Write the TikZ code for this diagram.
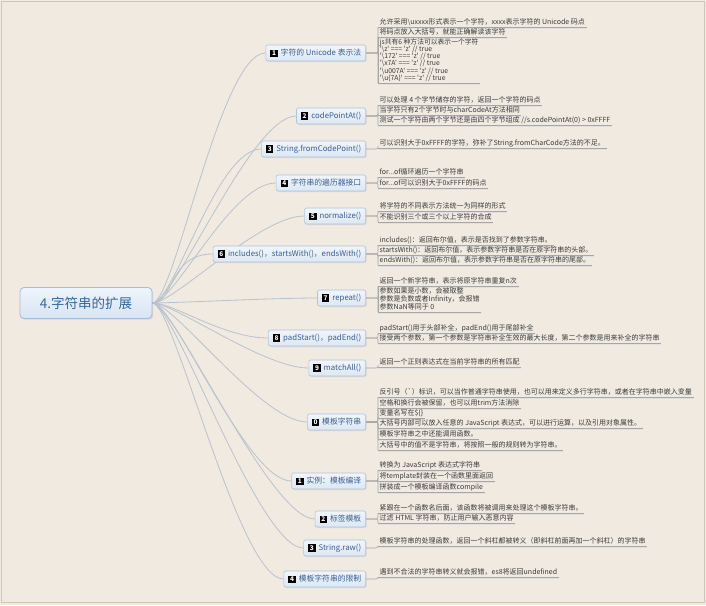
\documentclass[tikz,border=0pt]{standalone}
\usepackage{fontspec}
\newfontfamily\cjkf{Noto Sans CJK SC}
\usetikzlibrary{shadows,calc}
\pgfdeclarelayer{connlayer}
\pgfsetlayers{connlayer,main}
\definecolor{bgc}{HTML}{F0EAE1}
\definecolor{framec}{HTML}{CFC6B8}
\definecolor{rootfill}{HTML}{D8E5F3}
\definecolor{rootfilltop}{HTML}{EEF4FB}
\definecolor{rootdraw}{HTML}{A3BCD8}
\definecolor{roottext}{HTML}{3465A4}
\definecolor{brfill}{HTML}{DCE8F4}
\definecolor{brfilltop}{HTML}{F0F5FB}
\definecolor{brdraw}{HTML}{AEC4DC}
\definecolor{brtext}{HTML}{3A5E90}
\definecolor{rconnc}{HTML}{B8C2CD}
\definecolor{lconnc}{HTML}{A6A6A6}
\definecolor{leaftext}{HTML}{3A3A3A}
\newcommand\nicon[1]{{\setlength\fboxsep{1.2pt}\colorbox{black}{\makebox[5pt]{\textcolor{white}{\bfseries\fontsize{6.5}{6.5}\selectfont #1}}}}\hspace{3pt}}
\tikzset{
  rootnode/.style={draw=rootdraw, line width=0.8pt, rounded corners=4pt, top color=rootfilltop, bottom color=rootfill,
    minimum width=132pt, minimum height=31pt, text=roottext, font=\cjkf\fontsize{13.5}{16}\selectfont,
    drop shadow={opacity=0.18, shadow xshift=1.2pt, shadow yshift=-1.2pt}},
  brnode/.style={draw=brdraw, line width=0.6pt, rounded corners=2pt, top color=brfilltop, bottom color=brfill,
    anchor=east, minimum height=16pt, inner xsep=4.5pt, inner ysep=2pt, text=brtext,
    font=\cjkf\fontsize{7.8}{9}\selectfont,
    drop shadow={opacity=0.15, shadow xshift=1pt, shadow yshift=-1pt}},
  leafnode/.style={anchor=west, inner xsep=1.5pt, inner ysep=1.2pt, text height=5.6pt, text depth=1.6pt,
    text=leaftext, font=\cjkf\fontsize{7}{8}\selectfont},
  boxleaf/.style={anchor=west, inner xsep=1.5pt, inner ysep=1.5pt, align=left, text=leaftext},
  uline/.style={draw=lconnc, line width=0.6pt},
  ushadow/.style={draw=black!12, line width=0.8pt},
  rconn/.style={draw=rconnc, line width=0.8pt},
  lconn/.style={draw=lconnc, line width=0.6pt, rounded corners=2pt},
}
\newcommand\ulinefor[1]{\draw[ushadow] ([yshift=-1pt]#1.south west) -- ([yshift=-1pt]#1.south east);
  \draw[uline] (#1.south west) -- (#1.south east);}
\newcommand\mleaf[4]{%
  \node[leafnode] (#1) at (378,#3) {#4};
  \ulinefor{#1}
  \draw[lconn] (#2.east) -| (#1.south west);}
\newcommand\brconn[1]{\draw[rconn] (root.east) .. controls +(22,0) and +(-45,0) .. (#1.west);}
\begin{document}
\begin{tikzpicture}[x=1pt,y=-1pt]
\useasboundingbox (0,0) rectangle (706,605);
\begin{pgfonlayer}{connlayer}
\fill[bgc] (0,0) rectangle (706,605);
\draw[framec, line width=1pt] (1.5,1.5) rectangle (704.5,602.5);
\end{pgfonlayer}

% root
\node[rootnode] (root) at (86,303) {4.字符串的扩展};

% branches
\node[brnode] (b1) at (366,53) {\nicon{1}字符的 Unicode 表示法};
\node[brnode] (b2) at (366,116) {\nicon{2}codePointAt()};
\node[brnode] (b3) at (366,149) {\nicon{3}String.fromCodePoint()};
\node[brnode] (b4) at (366,183) {\nicon{4}字符串的遍历器接口};
\node[brnode] (b5) at (366,216) {\nicon{5}normalize()};
\node[brnode] (b6) at (366,254) {\nicon{6}includes()，startsWith()，endsWith()};
\node[brnode] (b7) at (366,298) {\nicon{7}repeat()};
\node[brnode] (b8) at (366,338) {\nicon{8}padStart()，padEnd()};
\node[brnode] (b9) at (366,368) {\nicon{9}matchAll()};
\node[brnode] (b10) at (366,422) {\nicon{0}模板字符串};
\node[brnode] (b11) at (366,481) {\nicon{1}实例：模板编译};
\node[brnode] (b12) at (366,519) {\nicon{2}标签模板};
\node[brnode] (b13) at (366,548) {\nicon{3}String.raw()};
\node[brnode] (b14) at (366,579) {\nicon{4}模板字符串的限制};

\begin{pgfonlayer}{connlayer}
\foreach \b in {b1,b2,b3,b4,b5,b6,b7,b8,b9,b10,b11,b12,b13,b14}{\brconn{\b}}
\end{pgfonlayer}

% branch 1
\mleaf{l1a}{b1}{22}{允许采用\textbackslash uxxxx形式表示一个字符，xxxx表示字符的 Unicode 码点}
\mleaf{l1b}{b1}{32}{将码点放入大括号，就能正确解读该字符}
\node[boxleaf, font=\cjkf\fontsize{6.8}{7.3}\selectfont] (l1c) at (378,60) {js共有6 种方法可以表示一个字符\\'\textbackslash z' === 'z'  // true\\'\textbackslash 172' === 'z' // true\\'\textbackslash x7A' === 'z' // true\\'\textbackslash u007A' === 'z' // true\\'\textbackslash u\{7A\}' === 'z' // true};
\ulinefor{l1c}
\draw[lconn] (b1.east) -| (l1c.south west);
\draw[lconn] (l1c.north west) -- (l1c.south west);

% branch 2
\mleaf{l2a}{b2}{100}{可以处理 4 个字节储存的字符，返回一个字符的码点}
\mleaf{l2b}{b2}{110}{当字符只有2个字节时与charCodeAt方法相同}
\mleaf{l2c}{b2}{120}{测试一个字符由两个字节还是由四个字节组成 //s.codePointAt(0) > 0xFFFF}

% branch 3
\mleaf{l3a}{b3}{143}{可以识别大于0xFFFF的字符，弥补了String.fromCharCode方法的不足。}

% branch 4
\mleaf{l4a}{b4}{172}{for...of循环遍历一个字符串}
\mleaf{l4b}{b4}{183}{for...of可以识别大于0xFFFF的码点}

% branch 5
\mleaf{l5a}{b5}{206}{将字符的不同表示方法统一为同样的形式}
\mleaf{l5b}{b5}{217}{不能识别三个或三个以上字符的合成}

% branch 6
\mleaf{l6a}{b6}{240}{includes()：返回布尔值，表示是否找到了参数字符串。}
\mleaf{l6b}{b6}{250}{startsWith()：返回布尔值，表示参数字符串是否在原字符串的头部。}
\mleaf{l6c}{b6}{260}{endsWith()：返回布尔值，表示参数字符串是否在原字符串的尾部。}

% branch 7
\mleaf{l7a}{b7}{281}{返回一个新字符串，表示将原字符串重复n次}
\node[boxleaf, font=\cjkf\fontsize{7}{8}\selectfont] (l7b) at (378,299) {参数如果是小数，会被取整\\参数是负数或者Infinity，会报错\\参数NaN等同于 0};
\ulinefor{l7b}
\draw[lconn] (b7.east) -| (l7b.south west);
\draw[lconn] (l7b.north west) -- (l7b.south west);

% branch 8
\mleaf{l8a}{b8}{328}{padStart()用于头部补全，padEnd()用于尾部补全}
\mleaf{l8b}{b8}{338}{接受两个参数，第一个参数是字符串补全生效的最大长度，第二个参数是用来补全的字符串}

% branch 9
\mleaf{l9a}{b9}{362}{返回一个正则表达式在当前字符串的所有匹配}

% branch 10
\mleaf{l10a}{b10}{392}{反引号（`）标识，可以当作普通字符串使用，也可以用来定义多行字符串，或者在字符串中嵌入变量}
\mleaf{l10b}{b10}{403}{空格和换行会被保留，也可以用trim方法消除}
\mleaf{l10c}{b10}{413}{变量名写在\$\{\}}
\mleaf{l10d}{b10}{423}{大括号内部可以放入任意的 JavaScript 表达式，可以进行运算，以及引用对象属性。}
\mleaf{l10e}{b10}{434}{模板字符串之中还能调用函数。}
\mleaf{l10f}{b10}{445}{大括号中的值不是字符串，将按照一般的规则转为字符串。}

% branch 11
\mleaf{l11a}{b11}{465}{转换为 JavaScript 表达式字符串}
\mleaf{l11b}{b11}{476}{将template封装在一个函数里面返回}
\mleaf{l11c}{b11}{487}{拼装成一个模板编译函数compile}

% branch 12
\mleaf{l12a}{b12}{508}{紧跟在一个函数名后面，该函数将被调用来处理这个模板字符串。}
\mleaf{l12b}{b12}{518}{过滤 HTML 字符串，防止用户输入恶意内容}

% branch 13
\mleaf{l13a}{b13}{541}{模板字符串的处理函数，返回一个斜杠都被转义（即斜杠前面再加一个斜杠）的字符串}

% branch 14
\mleaf{l14a}{b14}{572}{遇到不合法的字符串转义就会报错，es8将返回undefined}
\end{tikzpicture}
\end{document}
